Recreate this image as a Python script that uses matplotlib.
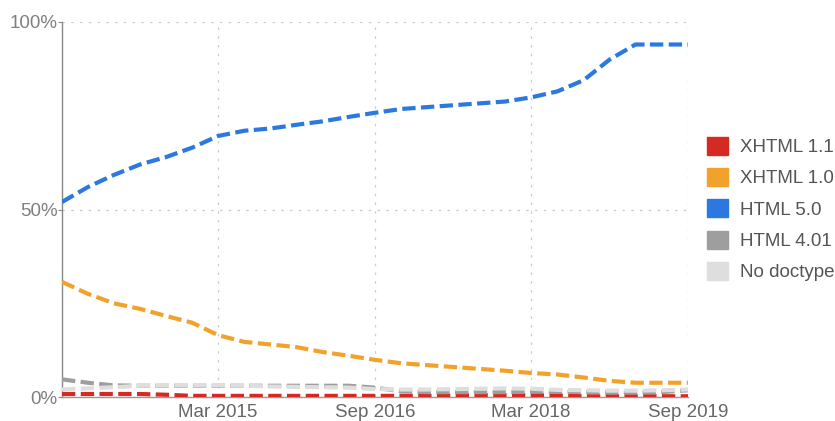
import pandas as pd
import matplotlib
matplotlib.use("Agg")
import matplotlib.pyplot as plt
import matplotlib.dates as mdates
from matplotlib.patches import Patch
from matplotlib.ticker import FixedLocator, FuncFormatter

plt.rcParams["font.family"] = ["Liberation Sans", "DejaVu Sans"]

# Quarterly samples, Sep 2013 .. Sep 2019
dates = pd.date_range("2013-09-01", "2019-09-01", freq="3MS")

xhtml_11 = [0.8, 0.8, 0.8, 0.8, 0.6, 0.3, 0.3, 0.3, 0.3, 0.3, 0.3, 0.3, 0.3,
            0.3, 0.3, 0.4, 0.5, 0.5, 0.5, 0.4, 0.2, 0.2, 0.2, 0.2, 0.2]
xhtml_10 = [30.7, 27.5, 25.0, 23.5, 21.6, 19.8, 16.5, 14.7, 14.0, 13.3, 12.0, 11.0, 9.9,
            9.0, 8.5, 8.0, 7.5, 7.0, 6.4, 6.0, 5.2, 4.3, 3.8, 3.8, 3.8]
html_5 = [52.0, 56.0, 59.2, 62.0, 64.0, 66.5, 69.6, 71.0, 71.6, 72.6, 73.5, 74.7, 75.8,
          76.8, 77.3, 77.8, 78.3, 78.8, 79.9, 81.5, 84.5, 90.0, 94.0, 94.0, 94.0]
html_401 = [4.7, 3.8, 3.1, 3.0, 3.0, 3.0, 3.0, 3.0, 3.0, 3.0, 3.0, 3.0, 2.5,
            1.5, 1.3, 1.3, 1.3, 1.3, 1.4, 1.4, 1.3, 1.2, 1.2, 1.3, 1.8]
no_doctype = [2.0, 2.3, 2.6, 3.0, 3.1, 3.1, 3.1, 3.0, 2.8, 2.7, 2.6, 2.5, 2.1,
              2.0, 2.0, 2.1, 2.2, 2.3, 2.2, 1.9, 1.8, 1.7, 1.7, 1.8, 2.0]

labels = ["XHTML 1.1", "XHTML 1.0", "HTML 5.0", "HTML 4.01", "No doctype"]
colors = ["#d42a22", "#f2a22a", "#2a78e0", "#9e9e9e", "#dedede"]
series = [xhtml_11, xhtml_10, html_5, html_401, no_doctype]

tick_dates = pd.to_datetime(["2015-03-01", "2016-09-01", "2018-03-01", "2019-09-01"])
tick_labels = ["Mar 2015", "Sep 2016", "Mar 2018", "Sep 2019"]

fig = plt.figure(figsize=(8.35, 4.21), dpi=100)
ax = fig.add_axes([62 / 835, 1 - 397 / 421, (688 - 62) / 835, (397 - 22) / 421])

for vals, col in zip(series, colors):
    ax.plot(dates, vals, color=col, linewidth=3.0, linestyle=(0, (3.2, 1.3)),
            dash_capstyle="butt", zorder=3)

ax.set_xlim(dates[0], dates[-1])
ax.set_ylim(0, 100)

ax.xaxis.set_major_locator(FixedLocator(mdates.date2num(tick_dates)))
ax.set_xticklabels(tick_labels)
ax.set_yticks([0, 50, 100])
ax.yaxis.set_major_formatter(FuncFormatter(lambda v, _: f"{v:.0f}%"))

ax.grid(True, color="#cccccc", linestyle=(0, (2, 5)), linewidth=0.9, zorder=0)
ax.tick_params(axis="x", length=0, pad=5, labelsize=13.5, labelcolor="#666666")
ax.tick_params(axis="y", length=3, width=0.8, color="#888888", pad=0,
               labelsize=13.5, labelcolor="#808080")

for side in ["top", "right"]:
    ax.spines[side].set_visible(False)
ax.spines["left"].set_color("#888888")
ax.spines["bottom"].set_color("#999999")
ax.spines["left"].set_linewidth(1.0)
ax.spines["bottom"].set_linewidth(1.0)

handles = [Patch(facecolor=c, edgecolor=c) for c in colors]
fig.legend(handles, labels, loc="center left", bbox_to_anchor=(690 / 835, 1 - 209 / 421),
           frameon=False, fontsize=13.5, handlelength=1.1, handleheight=1.1,
           handletextpad=0.65, labelspacing=0.64, labelcolor="#555555")

plt.savefig("out.png", dpi=100)
plt.close()
